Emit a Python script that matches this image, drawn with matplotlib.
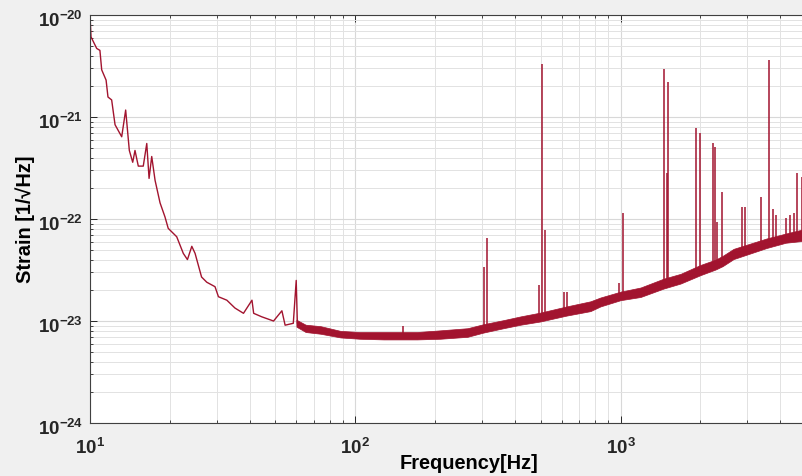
import numpy as np
import matplotlib
matplotlib.use('Agg')
import matplotlib.pyplot as plt
import matplotlib.transforms as mtransforms
from matplotlib.ticker import FuncFormatter, LogLocator, NullFormatter

# low frequency part of the trace
low_freq = [10.0, 10.09, 10.6, 10.9, 11.07, 11.5, 11.69, 12.07, 12.43, 13.17,
            13.63, 14.07, 14.49, 14.78, 15.21, 15.88, 16.37, 16.70, 17.09, 17.59,
            18.37, 19.17, 19.72, 21.23, 22.48, 23.3, 24.2, 24.9, 26.34, 27.56,
            29.6, 30.5, 32.8, 35.2, 37.9, 40.8, 41.4, 44.4, 49.2, 52.9,
            54.4, 58.4, 59.9, 60.5, 64.8]
low_strain = [1.0e-20, 6.1e-21, 4.7e-21, 4.5e-21, 2.9e-21, 2.3e-21, 1.57e-21, 1.47e-21, 8.4e-22, 6.4e-22,
              1.17e-21, 4.7e-22, 3.6e-22, 4.7e-22, 3.3e-22, 3.3e-22, 5.5e-22, 2.5e-22, 4.1e-22, 2.4e-22,
              1.44e-22, 1.05e-22, 8.1e-23, 6.7e-23, 4.6e-23, 4.0e-23, 5.4e-23, 4.6e-23, 2.7e-23, 2.4e-23,
              2.17e-23, 1.73e-23, 1.6e-23, 1.34e-23, 1.19e-23, 1.6e-23, 1.19e-23, 1.1e-23, 1.0e-23, 1.26e-23,
              9.1e-24, 9.5e-24, 2.5e-23, 9.5e-24, 8.5e-24]

# noise band above 60 Hz: upper / lower edge
band_freq = [60, 65, 74, 88, 104, 128, 171, 209, 265, 304, 362, 420, 499, 626,
             770, 840, 1000, 1190, 1453, 1684, 2004, 2283, 2426, 2669, 3556, 4194, 4862, 5000]
band_hi = [1.03e-23, 9.2e-24, 8.9e-24, 8.0e-24, 7.8e-24, 7.8e-24, 7.8e-24, 8.1e-24, 8.5e-24, 9.3e-24,
           1.02e-23, 1.11e-23, 1.21e-23, 1.39e-23, 1.56e-23, 1.7e-23, 1.94e-23, 2.13e-23, 2.6e-23, 2.9e-23,
           3.55e-23, 4.0e-23, 4.35e-23, 5.1e-23, 6.45e-23, 7.2e-23, 7.9e-23, 8.1e-23]
band_lo = [8.8e-24, 7.8e-24, 7.5e-24, 6.9e-24, 6.7e-24, 6.6e-24, 6.6e-24, 6.7e-24, 7.0e-24, 7.7e-24,
           8.5e-24, 9.2e-24, 9.9e-24, 1.13e-23, 1.25e-23, 1.39e-23, 1.6e-23, 1.72e-23, 2.08e-23, 2.33e-23,
           2.82e-23, 3.2e-23, 3.45e-23, 4.05e-23, 5.2e-23, 5.85e-23, 6.1e-23, 6.3e-23]

# narrow lines
spike_freq = [152, 305, 315, 491, 506, 517, 613, 631, 983, 1020, 1457, 1495, 1509,
              1931, 1992, 2230, 2263, 2317, 2404, 2879, 2937, 3376, 3627, 3755, 3868,
              4221, 4343, 4508, 4643, 4819]
spike_peak = [8.9e-24, 3.41e-23, 6.47e-23, 2.25e-23, 3.31e-21, 7.8e-23, 1.94e-23, 1.94e-23, 2.36e-23, 1.145e-22,
              2.95e-21, 2.82e-22, 2.22e-21, 7.8e-22, 6.97e-22, 5.56e-22, 5.08e-22, 9.4e-23, 1.85e-22, 1.32e-22,
              1.32e-22, 1.66e-22, 3.62e-21, 1.25e-22, 1.09e-22, 1.02e-22, 1.09e-22, 1.15e-22, 2.82e-22, 2.58e-22]

red = '#A2142F'
plt.rcParams['font.family'] = ['Liberation Sans', 'DejaVu Sans']
plt.rcParams['font.weight'] = 'bold'
plt.rcParams['mathtext.fontset'] = 'custom'
plt.rcParams['mathtext.bf'] = 'Liberation Sans:bold'
plt.rcParams['mathtext.rm'] = 'Liberation Sans:bold'

fig = plt.figure(figsize=(8.02, 4.76), dpi=100, facecolor='#f0f0f0')
ax = fig.add_axes([0.1122, 0.1113, 0.9451, 0.8572])
ax.set_xscale('log')
ax.set_yscale('log')

ax.plot(low_freq, low_strain, color=red, lw=1.0)
ax.fill_between(band_freq, band_lo, band_hi, color=red, lw=0.5)

base = 10 ** np.interp(np.log10(spike_freq), np.log10(band_freq), np.log10(band_lo))
ax.vlines(spike_freq, base, spike_peak, color=red, lw=1.1)

ax.set_xlim(10, 7200)
ax.set_ylim(1e-24, 1e-20)

ax.xaxis.set_major_locator(LogLocator(base=10, numticks=10))
ax.xaxis.set_minor_locator(LogLocator(base=10, subs=np.arange(2, 10), numticks=20))
ax.yaxis.set_major_locator(LogLocator(base=10, numticks=10))
ax.yaxis.set_minor_locator(LogLocator(base=10, subs=np.arange(2, 10), numticks=20))
fmt = FuncFormatter(lambda v, p: r'$\mathbf{10^{%d}}$' % round(np.log10(v)))
ax.xaxis.set_major_formatter(fmt)
ax.yaxis.set_major_formatter(fmt)
ax.xaxis.set_minor_formatter(NullFormatter())
ax.yaxis.set_minor_formatter(NullFormatter())

ax.grid(True, which='major', color='#d8d8d8', lw=0.8)
ax.grid(True, which='minor', color='#e2e2e2', lw=0.7)
ax.set_axisbelow(True)

ax.tick_params(which='both', direction='in', top=True, right=True, colors='#262626', labelsize=13.5)
ax.tick_params(which='major', length=5, width=0.7)
ax.tick_params(which='minor', length=2.5, width=0.6)
ax.tick_params(axis='x', pad=11)
ax.tick_params(axis='y', pad=5)
for s in ax.spines.values():
    s.set_color('#404040')
    s.set_linewidth(0.8)

# MATLAB puts the y tick labels a bit lower than the tick
shift = mtransforms.ScaledTranslation(0, -3 / 72, fig.dpi_scale_trans)
for lab in ax.get_yticklabels():
    lab.set_transform(lab.get_transform() + shift)

ax.set_xlabel('Frequency[Hz]', fontsize=14.4, fontweight='bold', labelpad=-3)
ax.set_ylabel('Strain [1/\u221aHz]', fontsize=14.4, fontweight='bold')
ax.yaxis.set_label_coords(-0.072, 0.5)

fig.savefig('out.png', dpi=100, facecolor=fig.get_facecolor())
